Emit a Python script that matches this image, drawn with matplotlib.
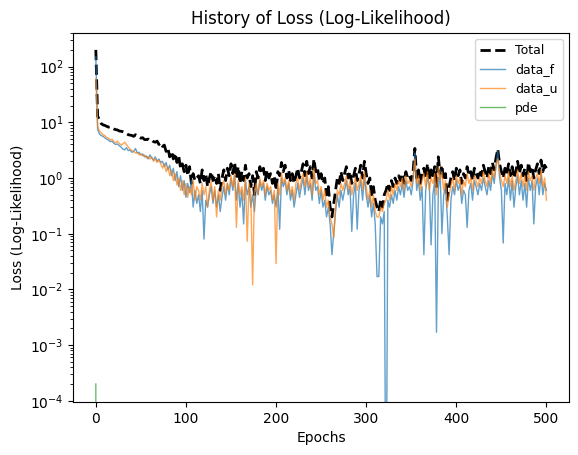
import matplotlib
matplotlib.use("Agg")
import matplotlib.pyplot as plt
import numpy as np

# epochs sampled every 2 steps
epochs = list(range(0, 501, 2))

total = [
    200, 13, 11, 9.5, 9.0, 8.8, 8.5, 8.2, 8.3, 7.9,
    7.6, 7.4, 7.3, 7.0, 6.9, 6.8, 6.6, 6.3, 6.0, 5.9,
    5.8, 5.6, 6.0, 5.7, 5.4, 5.2, 5.3, 4.9, 4.9, 5.0,
    4.7, 4.8, 4.5, 4.4, 4.6, 4.0, 4.3, 3.7, 3.9, 3.0,
    3.4, 2.4, 3.0, 2.2, 2.8, 1.9, 2.5, 1.5, 1.8, 1.3,
    1.7, 1.1, 1.6, 0.8, 1.2, 0.9, 1.0,
    1.1, 0.8, 1.4, 0.9, 1.2, 0.7, 1.0, 1.3, 0.9, 1.1,
    0.8, 1.2, 0.6, 1.0, 1.4, 0.9, 1.5, 1.1, 1.8, 1.2,
    1.9, 1.0, 1.6, 0.8, 1.3, 0.9, 1.7, 1.0, 1.2, 0.7,
    1.1, 0.5, 1.3, 1.0, 1.6, 1.2, 1.5, 0.9, 1.4, 1.0,
    1.2, 0.8, 1.1, 0.6, 1.3, 1.1, 1.9, 1.3, 1.7, 1.0,
    1.4, 0.9, 1.2, 0.8, 1.1, 1.5, 1.0, 1.3, 1.8, 1.1,
    2.0, 1.2, 1.6, 1.0, 2.2, 1.3, 1.5, 0.9, 1.2, 0.8,
    1.0, 0.5, 0.7, 0.3, 0.2, 0.35, 0.6, 1.0, 0.8, 1.3,
    0.9, 1.2, 1.6, 1.0, 1.3, 0.8, 1.1, 1.5, 0.9, 1.2,
    1.7, 1.0, 2.0, 1.2, 0.8, 1.0, 0.5, 0.7, 0.4, 0.3,
    0.25, 0.4, 0.3, 0.5, 0.6, 0.8, 0.6, 0.9, 0.7, 1.0,
    0.8, 1.1, 0.9, 1.2, 0.8, 1.3, 1.0, 1.1, 0.9, 1.3,
    3.4, 1.0, 1.4, 0.8, 1.2, 1.5, 1.0, 1.8, 0.9, 1.4,
    1.1, 1.6, 0.7, 2.4, 1.2, 1.7, 0.9, 1.2, 0.4, 0.7,
    1.0, 1.3, 0.9, 1.5, 1.1, 1.4, 0.8, 1.2, 1.0, 1.6,
    1.1, 1.3, 0.9, 1.5, 1.2, 1.0, 1.4, 1.1, 1.7, 1.3,
    1.0, 1.6, 1.2, 1.9, 1.4, 2.3, 3.3, 1.8, 1.3, 1.0,
    1.5, 1.2, 1.8, 1.1, 1.6, 1.0, 1.3, 2.0, 1.2, 1.7,
    1.1, 1.5, 0.9, 1.9, 1.3, 1.6, 1.0, 1.4, 1.8, 1.2,
    2.1, 1.3, 1.7, 1.5,
]

data_f = [
    150, 7.5, 6.2, 5.8, 5.6, 5.3, 5.0, 4.8, 4.5, 4.6,
    4.2, 4.0, 4.1, 3.8, 3.6, 3.3, 3.2, 3.5, 3.1, 3.2,
    2.9, 3.0, 3.4, 2.8, 2.9, 2.6, 2.7, 2.4, 2.5, 2.2,
    2.6, 2.3, 2.1, 2.4, 2.0, 2.2, 1.9, 2.0, 1.6, 1.9,
    1.4, 1.7, 1.1, 1.5, 0.9, 1.3, 0.7, 1.1, 0.6, 0.9,
    0.45, 0.8, 0.55, 0.9, 0.3, 0.6, 0.35,
    0.5, 0.25, 0.6, 0.08, 0.4, 0.3, 0.5, 0.7, 0.35, 0.6,
    0.3, 0.5, 0.25, 0.45, 0.7, 0.4, 0.8, 0.5, 1.0, 0.6,
    1.1, 0.4, 0.8, 0.3, 0.6, 0.15, 0.9, 0.5, 0.7, 0.3,
    0.5, 0.25, 0.7, 0.5, 0.9, 0.6, 0.8, 0.4, 0.7, 0.5,
    0.6, 0.35, 0.5, 0.3, 0.7, 0.12, 1.0, 0.7, 0.9, 0.5,
    0.8, 0.4, 0.6, 0.3, 0.5, 0.8, 0.45, 0.7, 1.0, 0.5,
    1.1, 0.6, 0.8, 0.4, 1.2, 0.6, 0.7, 0.35, 0.6, 0.3,
    0.4, 0.2, 0.3, 0.15, 0.042, 0.1, 0.25, 0.5, 0.3, 0.6,
    0.4, 0.6, 0.9, 0.5, 0.7, 0.11, 0.5, 0.8, 0.12, 0.6,
    0.9, 0.4, 1.1, 0.5, 0.3, 0.5, 0.2, 0.35, 0.15, 0.017,
    0.017, 0.2, 0.15, 0.25, 1e-7, 0.4, 0.3, 0.5, 0.35, 0.6,
    0.4, 0.7, 0.5, 0.8, 0.45, 0.9, 0.6, 0.7, 0.5, 0.9,
    2.8, 0.6, 0.9, 0.4, 0.7, 0.042, 0.6, 1.0, 0.8, 0.063,
    0.5, 0.9, 0.0017, 0.6, 1.4, 0.1, 0.5, 0.7, 0.2, 0.042,
    0.4, 0.7, 0.5, 0.9, 0.6, 0.8, 0.35, 0.6, 0.5, 0.13,
    0.6, 0.8, 0.4, 0.9, 0.7, 0.5, 0.8, 0.6, 1.0, 0.7,
    0.5, 0.9, 0.6, 1.2, 0.8, 1.6, 3.0, 1.0, 0.6, 0.068,
    0.8, 0.5, 1.0, 0.4, 0.9, 0.3, 0.7, 1.1, 0.5, 0.9,
    0.4, 0.8, 0.3, 1.0, 0.6, 0.9, 0.15, 0.7, 1.0, 0.5,
    1.2, 0.5, 0.8, 0.6,
]

data_u = [
    60, 8.5, 7.0, 6.5, 6.0, 5.8, 5.3, 5.2, 4.8, 5.0,
    4.5, 4.3, 4.6, 4.2, 3.9, 4.1, 4.4, 4.0, 3.6, 3.3,
    3.1, 3.0, 2.8, 2.9, 2.6, 2.7, 2.5, 2.6, 2.3, 2.4,
    2.2, 2.4, 2.0, 2.2, 1.9, 2.1, 1.8, 1.5, 1.8, 1.3,
    1.6, 1.1, 1.4, 0.9, 1.2, 0.75, 1.0, 0.6, 0.9, 0.5,
    0.8, 0.45, 0.7, 0.5, 0.9, 0.4, 0.7,
    0.6, 0.4, 0.8, 0.5, 0.7, 0.3, 0.6, 0.9, 0.4, 0.7,
    0.2, 0.6, 0.4, 0.7, 0.9, 0.5, 0.8, 0.6, 1.1, 0.7,
    1.2, 0.13, 0.9, 0.5, 0.7, 0.4, 1.0, 0.073, 0.8, 0.5,
    0.012, 0.6, 0.8, 0.5, 1.0, 0.7, 0.9, 0.5, 0.8, 0.6,
    0.7, 0.4, 0.6, 0.029, 0.8, 0.5, 1.2, 0.8, 1.0, 0.6,
    0.9, 0.5, 0.7, 0.4, 0.8, 1.0, 0.6, 0.9, 1.2, 0.7,
    1.3, 0.7, 1.0, 0.5, 1.5, 0.8, 0.9, 0.5, 0.7, 0.4,
    0.6, 0.3, 0.4, 0.2, 0.15, 0.085, 0.3, 0.6, 0.5, 0.8,
    0.6, 0.8, 1.1, 0.6, 0.9, 0.5, 0.7, 1.0, 0.6, 0.8,
    1.1, 0.6, 1.3, 0.7, 0.4, 0.6, 0.3, 0.5, 0.25, 0.2,
    0.2, 0.3, 0.25, 0.35, 0.4, 0.6, 0.4, 0.7, 0.5, 0.8,
    0.6, 0.9, 0.7, 1.0, 0.6, 1.1, 0.8, 0.9, 0.7, 1.0,
    2.2, 0.8, 1.1, 0.6, 0.9, 1.2, 0.7, 1.3, 0.6, 1.0,
    0.8, 1.2, 0.5, 1.6, 0.9, 1.3, 0.6, 0.9, 0.3, 0.5,
    0.7, 1.0, 0.6, 1.1, 0.8, 1.0, 0.5, 0.9, 0.7, 1.2,
    0.8, 1.0, 0.6, 1.1, 0.9, 0.7, 1.0, 0.8, 1.3, 0.9,
    0.7, 1.2, 0.8, 1.4, 1.0, 1.7, 2.2, 1.3, 0.9, 0.7,
    1.1, 0.8, 1.3, 0.7, 1.1, 0.6, 0.9, 1.4, 0.8, 1.2,
    0.7, 1.1, 0.6, 1.3, 0.9, 1.1, 0.6, 1.0, 1.2, 0.8,
    1.4, 0.7, 1.0, 0.4,
]

# pde term only shows at the first epoch, then it is zero
pde = [2e-4] + [0.0] * (len(epochs) - 1)

fig = plt.figure(figsize=(5.78, 4.55), dpi=100)
ax = fig.add_axes([0.1268, 0.1165, 0.8576, 0.8116])

ax.plot(epochs, total, "k--", lw=2, label="Total")
ax.plot(epochs, data_f, lw=1, alpha=0.7, label="data_f")
ax.plot(epochs, data_u, lw=1, alpha=0.7, label="data_u")
ax.plot(epochs, pde, lw=1, alpha=0.7, label="pde")

ax.set_yscale("log")
ax.set_xlim(-25, 525)
ax.set_ylim(9.5e-5, 407)
ax.set_title("History of Loss (Log-Likelihood)")
ax.set_xlabel("Epochs")
ax.set_ylabel("Loss (Log-Likelihood)")
ax.legend(loc="upper right", fontsize=9)

fig.savefig("out.png", dpi=100)
